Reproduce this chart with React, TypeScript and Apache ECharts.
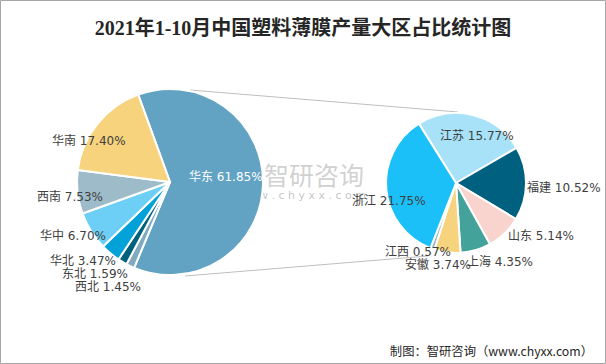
import React, { useEffect, useRef } from "react";
import * as echarts from "echarts";

const TITLE = "2021年1-10月中国塑料薄膜产量大区占比统计图";
const SOURCE = "制图：智研咨询（www.chyxx.com）";

const LEFT_NAMES = ["华东", "西北", "东北", "华北", "华中", "西南", "华南"];
const LEFT_VALUES = [61.85, 1.45, 1.59, 3.47, 6.7, 7.53, 17.4];
const LEFT_COLORS = ["#62A3C4", "#7FAABF", "#00617F", "#02A2D9", "#6ECFF6", "#9DBBC9", "#F6D37C"];

const RIGHT_NAMES = ["江苏", "福建", "山东", "上海", "安徽", "江西", "浙江"];
const RIGHT_VALUES = [15.77, 10.52, 5.14, 4.35, 3.74, 0.57, 21.75];
const RIGHT_COLORS = ["#A8E2F9", "#00607F", "#F9D3CD", "#43A29A", "#F6D37C", "#8DB3C6", "#1BC0F8"];

// label anchor (left edge, vertical middle) per slice
const LEFT_LABEL_POS = [
  [189, 177],
  [75, 287],
  [62, 274],
  [50, 261],
  [40, 236],
  [37, 197],
  [52, 141],
];
const RIGHT_LABEL_POS = [
  [440, 136],
  [527, 188],
  [508, 236],
  [467, 262],
  [405, 265],
  [385, 252],
  [352, 201],
];

const LABEL_FONT = "Verdana, 'DejaVu Sans', 'Noto Sans CJK SC', sans-serif";

export default function App() {
  const ref = useRef<HTMLDivElement>(null);
  useEffect(() => {
    document.body.style.margin = "0";
    const chart = echarts.init(ref.current!, null, { renderer: "svg" });
    const mk = (names: string[], values: number[], colors: string[]) =>
      names.map((n, i) => ({ name: n, value: values[i], itemStyle: { color: colors[i] } }));
    const fmt = (p: any) => `${p.name} ${Number(p.value).toFixed(2)}%`;
    const labelStyle = {
      show: true,
      formatter: fmt,
      fontSize: 12,
      fontFamily: LABEL_FONT,
      color: "#404040",
    };
    const option: any = {
      animation: false,
      backgroundColor: "#ffffff",
      title: {
        text: TITLE,
        left: "center",
        top: 13,
        textStyle: {
          fontSize: 20,
          fontWeight: "bold",
          color: "#262626",
          fontFamily: "'Liberation Serif', 'Noto Sans CJK SC', serif",
        },
      },
      graphic: [
        {
          type: "rect",
          shape: { x: 0.5, y: 0.5, width: 605, height: 363 },
          style: { fill: "none", stroke: "#A6A6A6", lineWidth: 1 },
          silent: true,
        },
        {
          type: "line",
          shape: { x1: 190, y1: 90, x2: 458, y2: 112 },
          style: { stroke: "#BFBFBF", lineWidth: 1 },
          z: 1,
        },
        {
          type: "line",
          shape: { x1: 185, y1: 276, x2: 428, y2: 256 },
          style: { stroke: "#BFBFBF", lineWidth: 1 },
          z: 1,
        },
        {
          type: "text",
          x: 593,
          y: 351,
          style: {
            text: SOURCE,
            align: "right",
            verticalAlign: "middle",
            fontSize: 12.3,
            fill: "#262626",
            fontFamily: "'Noto Sans CJK SC', sans-serif",
          },
        },
        {
          type: "group",
          z: 100,
          silent: true,
          children: [
            { type: "rect", shape: { x: 234, y: 164, width: 9, height: 23 }, style: { fill: "rgba(110,130,150,0.30)" } },
            { type: "rect", shape: { x: 245, y: 164, width: 15, height: 7 }, style: { fill: "rgba(110,130,150,0.30)" } },
            { type: "rect", shape: { x: 245, y: 173, width: 15, height: 5 }, style: { fill: "rgba(110,130,150,0.30)" } },
            { type: "rect", shape: { x: 245, y: 180, width: 15, height: 7 }, style: { fill: "rgba(110,130,150,0.30)" } },
            {
              type: "text",
              x: 264,
              y: 174,
              style: {
                text: "智研咨询",
                fontSize: 25,
                verticalAlign: "middle",
                fill: "rgba(150,150,150,0.45)",
                fontFamily: "'Noto Sans CJK SC', sans-serif",
              },
            },
            {
              type: "text",
              x: 234,
              y: 195,
              style: {
                text: "w w w . c h y x x . c o m",
                fontSize: 11,
                verticalAlign: "middle",
                fill: "rgba(120,120,120,0.45)",
                fontFamily: "'DejaVu Sans', sans-serif",
              },
            },
          ],
        },
      ],
      series: [
        {
          type: "pie",
          center: [170, 182],
          radius: 93,
          startAngle: 110,
          clockwise: true,
          avoidLabelOverlap: false,
          itemStyle: { borderColor: "#ffffff", borderWidth: 2 },
          label: { ...labelStyle, position: "outside" },
          labelLine: { show: false },
          labelLayout: (p: any) => {
            const pos = LEFT_LABEL_POS[p.dataIndex];
            return { x: pos[0], y: pos[1], align: "left", verticalAlign: "middle" };
          },
          data: mk(LEFT_NAMES, LEFT_VALUES, LEFT_COLORS).map((d, i) =>
            i === 0 ? { ...d, label: { color: "#ffffff" } } : d
          ),
        },
        {
          type: "pie",
          center: [456, 183],
          radius: 70,
          startAngle: 122,
          clockwise: true,
          avoidLabelOverlap: false,
          itemStyle: { borderColor: "#ffffff", borderWidth: 2 },
          label: { ...labelStyle, position: "outside" },
          labelLine: { show: false },
          labelLayout: (p: any) => {
            const pos = RIGHT_LABEL_POS[p.dataIndex];
            return { x: pos[0], y: pos[1], align: "left", verticalAlign: "middle" };
          },
          data: mk(RIGHT_NAMES, RIGHT_VALUES, RIGHT_COLORS),
        },
      ],
    };
    chart.setOption(option);
    return () => chart.dispose();
  }, []);
  return (
    <div
      ref={ref}
      style={{ position: "fixed", left: 0, top: 0, width: 606, height: 364 }}
    />
  );
}
